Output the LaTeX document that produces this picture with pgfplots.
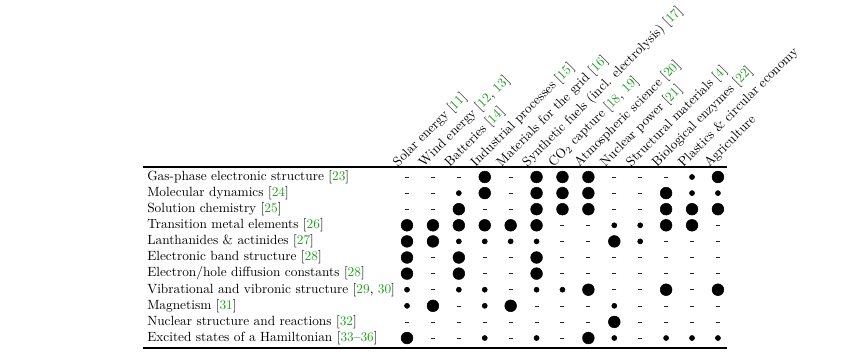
\documentclass[border=0pt]{standalone}
\usepackage{pgfplots}
\pgfplotsset{compat=1.18}
\definecolor{citegreen}{RGB}{30,160,30}
\newcommand{\g}[1]{\textcolor{citegreen}{#1}}
\begin{document}
\begin{tikzpicture}
\useasboundingbox (-107.25pt,-4.5pt) rectangle (542.25pt,261pt);
\begin{axis}[
  at={(0,0)}, anchor=south west,
  scale only axis, width=438pt, height=135.75pt,
  xmin=-10.19, xmax=12.35,
  ymin=-0.62, ymax=10.62, y dir=reverse,
  separate axis lines,
  axis x line=box,
  y axis line style={draw=none},
  x axis line style={line width=0.8pt},
  major tick style={draw=none},
  xtick={0,...,12}, ytick={0,...,10},
  xticklabel pos=upper,
  xticklabels={
    {Solar energy [\g{11}]},
    {Wind energy [\g{12}, \g{13}]},
    {Batteries [\g{14}]},
    {Industrial processes [\g{15}]},
    {Materials for the grid [\g{16}]},
    {Synthetic fuels (incl. electrolysis) [\g{17}]},
    {CO$_2$ capture [\g{18}, \g{19}]},
    {Atmospheric science [\g{20}]},
    {Nuclear power [\g{21}]},
    {Structural materials [\g{4}]},
    {Biological enzymes [\g{22}]},
    {Plastics \& circular economy},
    {Agriculture}},
  xticklabel style={rotate=45, anchor=south west, inner sep=1pt, xshift=-6pt, yshift=1pt},
  yticklabels={
    {Gas-phase electronic structure [\g{23}]},
    {Molecular dynamics [\g{24}]},
    {Solution chemistry [\g{25}]},
    {Transition metal elements [\g{26}]},
    {Lanthanides \& actinides [\g{27}]},
    {Electronic band structure [\g{28}]},
    {Electron/hole diffusion constants [\g{28}]},
    {Vibrational and vibronic structure [\g{29}, \g{30}]},
    {Magnetism [\g{31}]},
    {Nuclear structure and reactions [\g{32}]},
    {Excited states of a Hamiltonian [\g{33}--\g{36}]}},
  yticklabel style={anchor=west, inner sep=0pt, xshift=3pt},
  clip=false,
]
% large dots
\addplot[only marks, mark=*, mark size=4.4pt, black] coordinates {
 (3,0) (5,0) (6,0) (7,0) (12,0)
 (3,1) (5,1) (6,1) (7,1) (10,1)
 (2,2) (5,2) (6,2) (7,2) (10,2) (11,2) (12,2)
 (0,3) (1,3) (2,3) (3,3) (4,3) (5,3) (10,3) (11,3)
 (0,4) (1,4) (8,4)
 (0,5) (2,5) (5,5)
 (0,6) (2,6) (5,6)
 (7,7) (10,7) (12,7)
 (1,8) (4,8)
 (8,9)
 (0,10) (7,10)
};
% small dots
\addplot[only marks, mark=*, mark size=1.9pt, black] coordinates {
 (11,0)
 (2,1) (11,1) (12,1)
 (8,3) (9,3)
 (2,4) (3,4) (4,4) (5,4) (9,4)
 (0,7) (2,7) (3,7) (5,7) (6,7)
 (0,8) (3,8) (8,8)
 (3,10) (5,10) (8,10) (10,10) (11,10) (12,10)
};
% dashes
\addplot[only marks, mark=-, mark size=1.5pt, mark options={line width=0.4pt}, black!85] coordinates {
 (0,0) (1,0) (2,0) (4,0) (8,0) (9,0) (10,0)
 (0,1) (1,1) (4,1) (8,1) (9,1)
 (0,2) (1,2) (3,2) (4,2) (8,2) (9,2)
 (6,3) (7,3) (12,3)
 (6,4) (7,4) (10,4) (11,4) (12,4)
 (1,5) (3,5) (4,5) (6,5) (7,5) (8,5) (9,5) (10,5) (11,5) (12,5)
 (1,6) (3,6) (4,6) (6,6) (7,6) (8,6) (9,6) (10,6) (11,6) (12,6)
 (1,7) (4,7) (8,7) (9,7) (11,7)
 (2,8) (5,8) (6,8) (7,8) (9,8) (10,8) (11,8) (12,8)
 (0,9) (1,9) (2,9) (3,9) (4,9) (5,9) (6,9) (7,9) (9,9) (10,9) (11,9) (12,9)
 (1,10) (2,10) (4,10) (6,10) (9,10)
};
\end{axis}
\end{tikzpicture}
\end{document}
